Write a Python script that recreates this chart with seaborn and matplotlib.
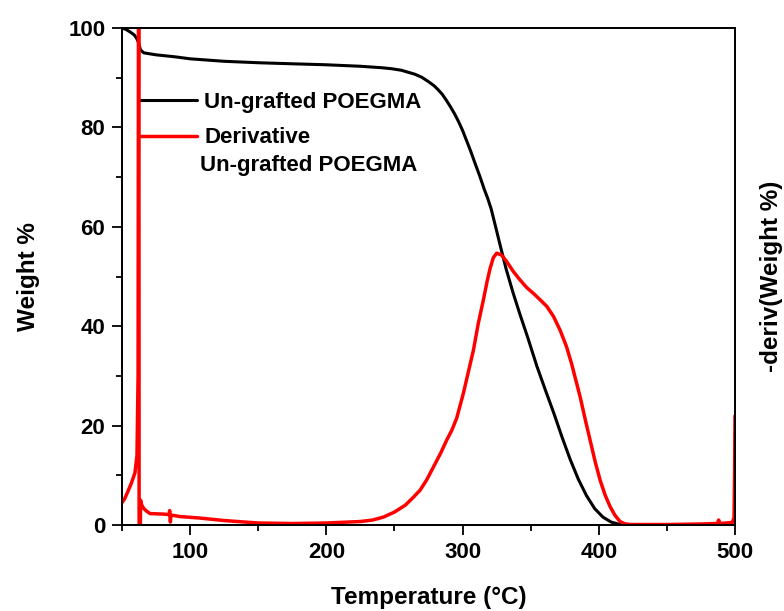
import numpy as np
import pandas as pd
import matplotlib
matplotlib.use("Agg")
import matplotlib.pyplot as plt
from matplotlib.ticker import MultipleLocator
import seaborn as sns

# TGA weight curve
temp_tga = [50, 53, 56, 59, 61, 62.5, 63.5, 66, 75, 89, 100, 125, 151, 175, 200, 225, 241,
            248, 255, 260, 265, 270, 275, 279, 282, 285, 288, 291, 294, 297, 300, 303, 306,
            309, 312.5, 316, 318.5, 321, 324, 327.5, 332, 337, 342, 348, 354.5, 361, 367,
            373, 379, 385, 391, 397, 403, 409, 415, 420, 500]
weight = [100, 99.7, 99.2, 98.6, 97.8, 96.8, 95.6, 95.0, 94.6, 94.2, 93.8, 93.3, 93.0, 92.8,
          92.6, 92.3, 92.0, 91.8, 91.5, 91.1, 90.7, 90.1, 89.2, 88.4, 87.6, 86.7, 85.5, 84.2,
          82.8, 81.2, 79.4, 77.3, 75.2, 72.9, 70.3, 67.5, 65.7, 63.6, 60.3, 56.4, 51.5, 46.8,
          42.5, 37.6, 32.0, 27.0, 22.5, 17.7, 13.2, 9.2, 5.9, 3.3, 1.6, 0.6, 0.15, 0.0, 0.0]

# Derivative curve
temp_d = [50, 52, 54.4, 57, 59.5, 61, 61.8, 62.3, 62.6, 63.0, 63.6, 64.5, 66, 68, 70.6, 80,
          84.5, 85, 85.5, 86, 92.6, 107, 125, 150, 175, 200, 225, 234, 242, 250, 258, 263.6,
          268.8, 273.5, 278.3, 284, 288.4, 292, 295.7, 300.6, 304, 308, 311.5, 315.3, 318,
          320.2, 322.6, 325.1, 328.7, 332.4, 337.3, 342.2, 347, 352, 357, 361.8, 366.7, 371.6,
          376.3, 380, 383.3, 386.3, 390, 393.6, 397.3, 401, 404.7, 408.3, 412, 415.6, 419,
          423, 450, 475, 487, 488, 489, 498, 499.3, 499.7, 500]
deriv = [4.5, 5.3, 6.8, 8.5, 10.5, 14, 30, 160, -20, -20, 5.0, 4.0, 3.3, 2.8, 2.3, 2.2,
         2.1, 2.9, 0.6, 2.0, 1.7, 1.4, 0.9, 0.4, 0.3, 0.4, 0.7, 1.0, 1.6, 2.6, 4.0, 5.5,
         7.0, 9.0, 11.5, 14.5, 17.1, 19.0, 21.5, 26.5, 30.5, 35.2, 40.5, 45.3, 49.0,
         51.6, 53.8, 54.7, 54.3, 53.0, 51.0, 49.3, 47.8, 46.6, 45.3, 44.0, 42.0, 39.2,
         35.9, 32.5, 29.0, 25.8, 21.3, 17.1, 12.8, 9.0, 6.0, 3.7, 1.9, 0.7, 0.25,
         0.1, 0.1, 0.2, 0.3, 1.0, 0.3, 0.5, 1.5, 10, 22]

x_ticks = [100, 200, 300, 400, 500]
y_ticks = [0, 20, 40, 60, 80, 100]

sns.set_style("ticks")
plt.rcParams["font.family"] = ["Liberation Sans", "DejaVu Sans"]
plt.rcParams["font.weight"] = "bold"
plt.rcParams["text.color"] = "black"
plt.rcParams["axes.labelcolor"] = "black"
plt.rcParams["xtick.color"] = "black"
plt.rcParams["ytick.color"] = "black"

fig = plt.figure(figsize=(7.84, 6.11), dpi=100)
ax = fig.add_axes([122 / 784, 1 - 525 / 611, 613 / 784, 497 / 611])
ax2 = ax.twinx()

df_w = pd.DataFrame({"T": temp_tga, "W": weight})
df_d = pd.DataFrame({"T": temp_d, "D": deriv})
sns.lineplot(data=df_w, x="T", y="W", ax=ax, color="black", lw=2.2, sort=False)
sns.lineplot(data=df_d, x="T", y="D", ax=ax2, color="#ff0000", lw=2.5, sort=False)

for a in (ax, ax2):
    a.set_xlim(50, 500)
    a.set_ylim(0, 100)

ax.set_xticks(x_ticks)
ax.set_yticks(y_ticks)
ax.xaxis.set_minor_locator(MultipleLocator(50))
ax.yaxis.set_minor_locator(MultipleLocator(10))
ax.tick_params(axis="both", which="major", direction="out", length=7, width=1.3,
               labelsize=16, pad=5, color="black", labelcolor="black")
ax.tick_params(axis="both", which="minor", direction="out", length=4, width=1.3, color="black")
ax.tick_params(axis="x", top=False)
for lab in ax.get_xticklabels() + ax.get_yticklabels():
    lab.set_fontweight("bold")

ax2.set_yticks([])
ax2.tick_params(axis="y", right=False)

for a in (ax, ax2):
    for s in a.spines.values():
        s.set_visible(True)
        s.set_linewidth(1.3)
        s.set_color("black")

ax.set_xlabel("Temperature (°C)", fontsize=17.5, fontweight="bold", labelpad=17, color="black")
ax.set_ylabel("Weight %", fontsize=17.5, fontweight="bold", labelpad=20, color="black")
ax2.set_ylabel("-deriv(Weight %)", fontsize=17.5, fontweight="bold", labelpad=18, color="black")

h1 = ax.get_lines()[0]
h2 = ax2.get_lines()[0]
ax.legend([h1, h2], ["Un-grafted POEGMA", "Derivative"], loc="upper left",
          bbox_to_anchor=((140 - 122) / 613, (525 - 92) / 497), frameon=False,
          prop={"size": 16, "weight": "bold"}, handlelength=2.55, handletextpad=0.35,
          labelspacing=0.65, borderaxespad=0, borderpad=0)
ax.text((200.5 - 122) / 613, (525 - 165) / 497, "Un-grafted POEGMA", transform=ax.transAxes,
        fontsize=16, fontweight="bold", ha="left", va="center", color="black")

fig.savefig("out.png", dpi=100)
